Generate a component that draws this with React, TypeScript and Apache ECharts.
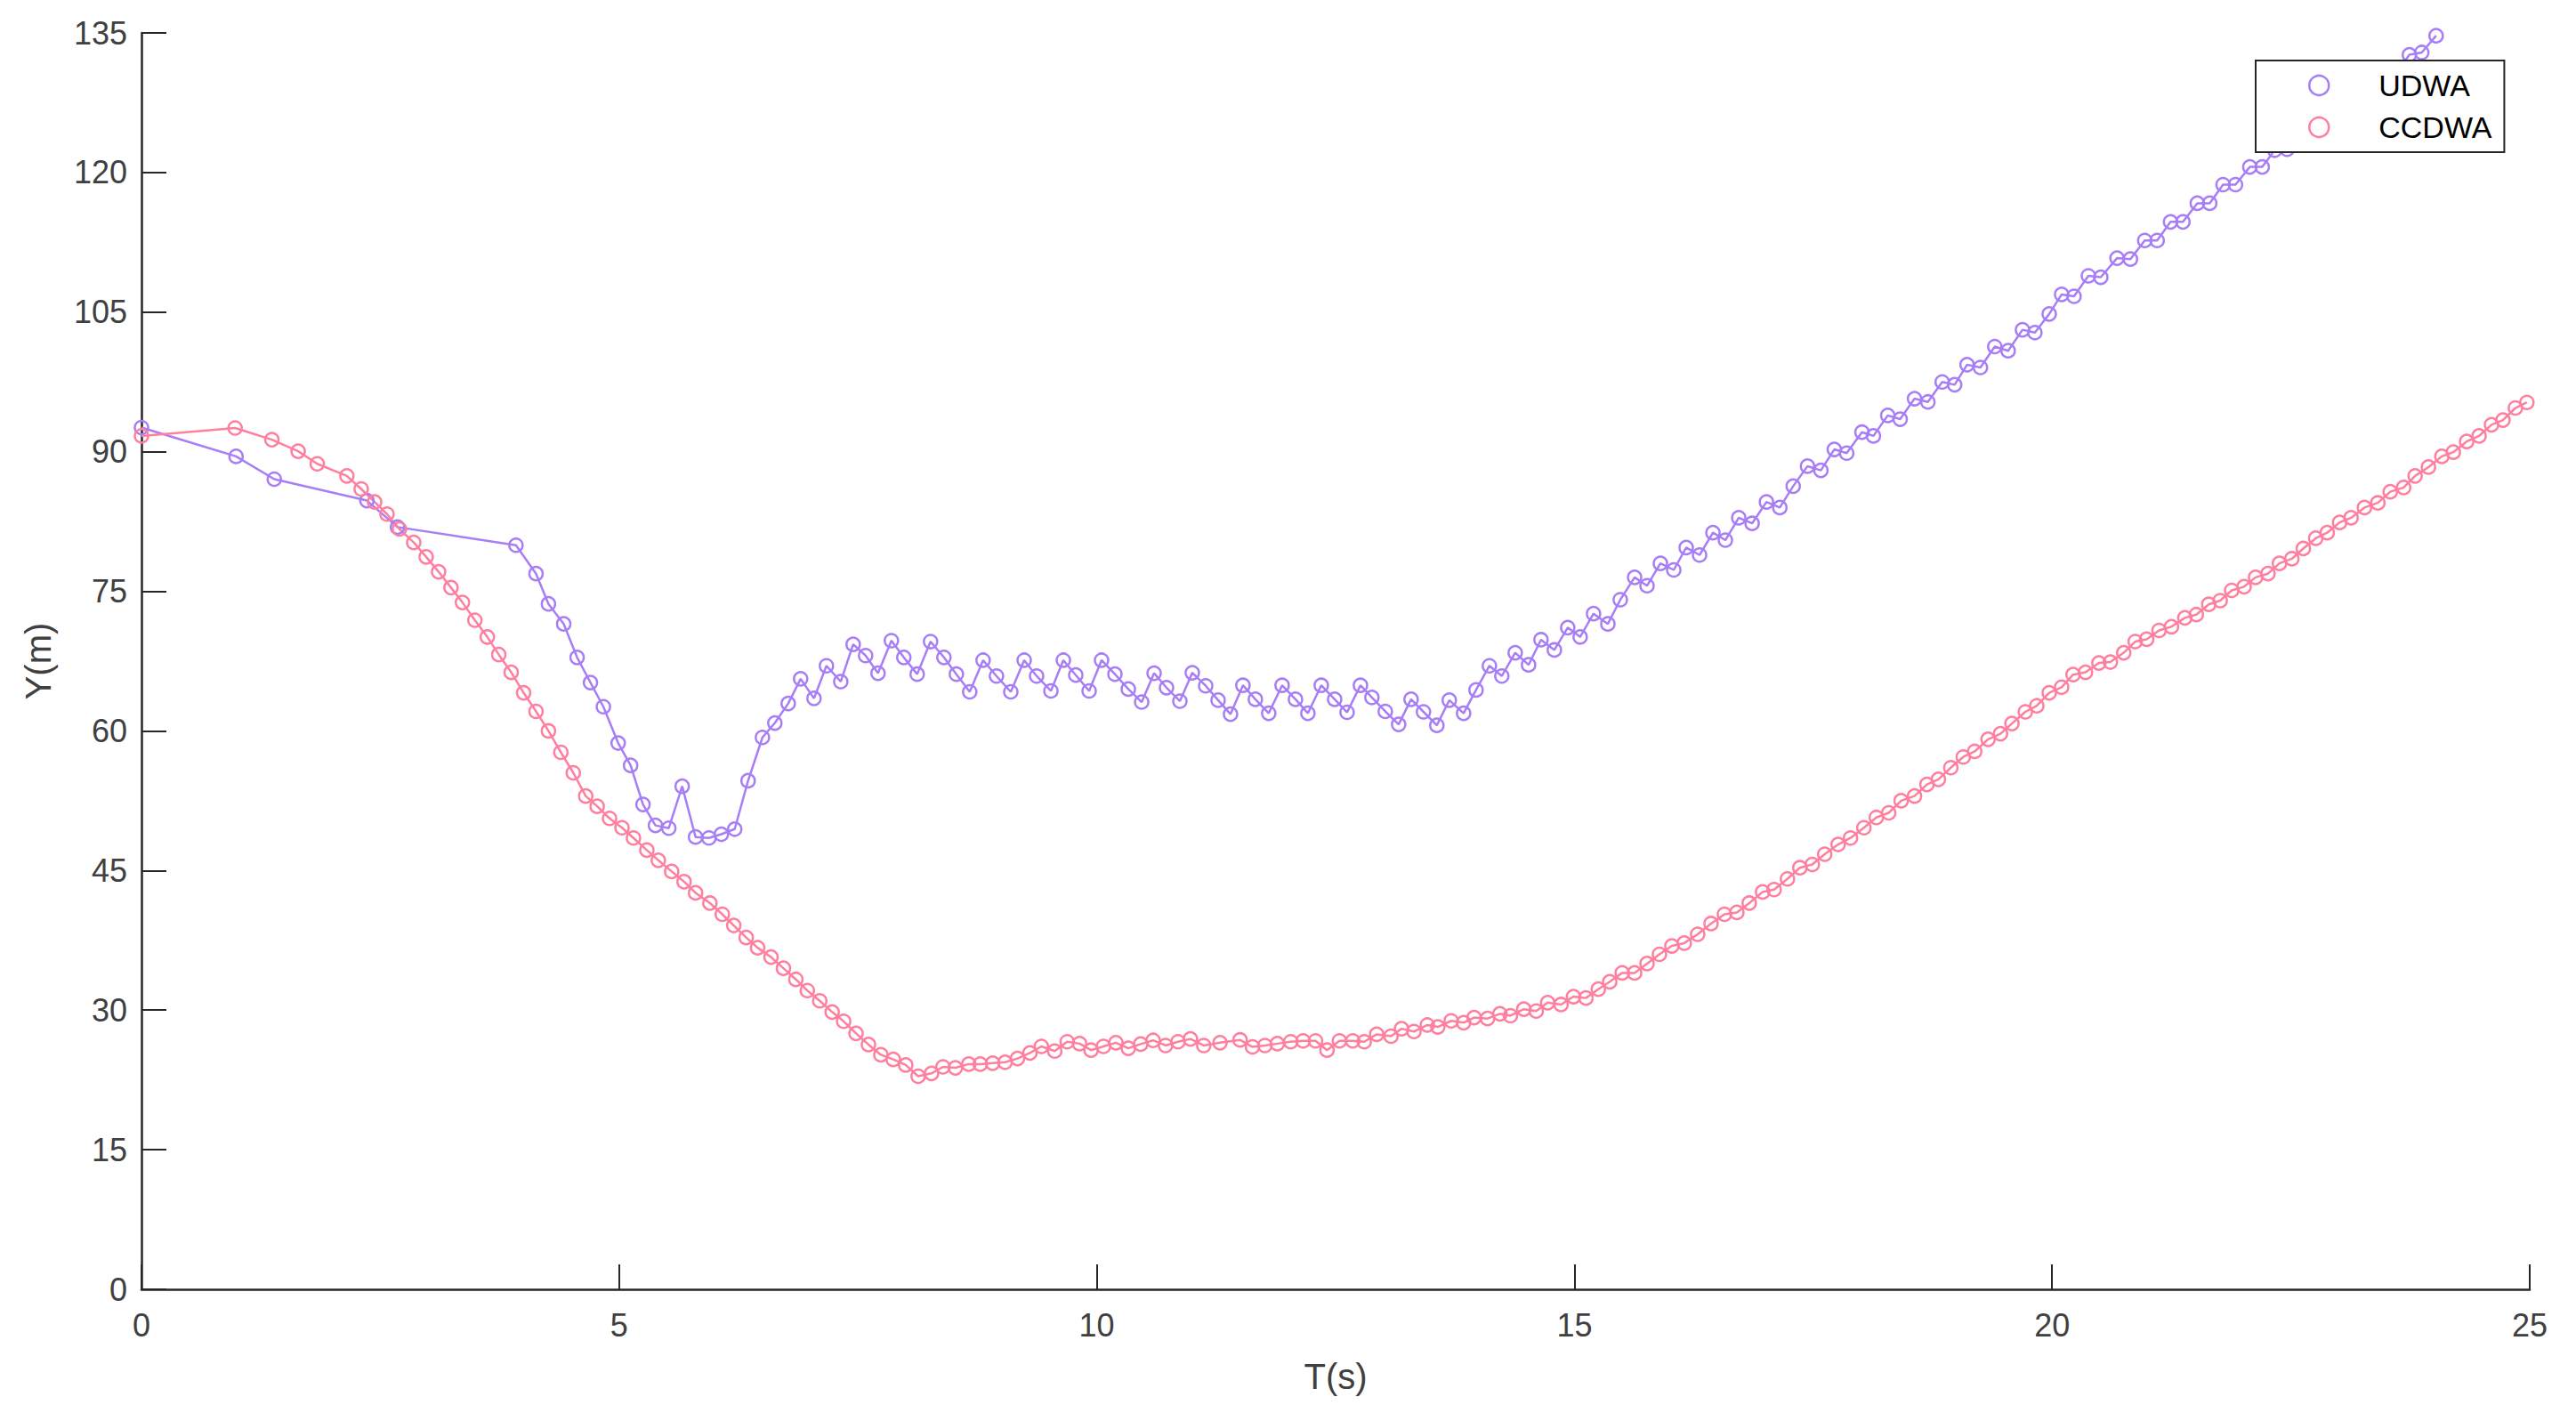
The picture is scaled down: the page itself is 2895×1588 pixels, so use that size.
import React, { useEffect, useRef } from "react";
import * as echarts from "echarts";

const seriesNames = ["UDWA", "CCDWA"];
const xTicks = { min: 0, max: 25, interval: 5 };
const yTicks = { min: 0, max: 135, interval: 15 };
const axisNames = { x: "T(s)", y: "Y(m)" };

// [T (s), Y (m)]
const udwaPoints: number[][] = [
  [0, 92.6], [0.99, 89.5], [1.39, 87.05], [2.36, 84.75], [2.68, 81.9], [3.92, 79.95],
  [4.13, 76.9], [4.26, 73.65], [4.42, 71.5], [4.56, 67.9], [4.7, 65.2], [4.835, 62.6],
  [4.99, 58.7], [5.12, 56.3], [5.25, 52.1], [5.38, 49.85], [5.52, 49.55], [5.66, 54.05],
  [5.8, 48.6], [5.94, 48.5], [6.07, 48.9], [6.21, 49.45], [6.35, 54.65], [6.5, 59.3],
  [6.63, 60.85], [6.77, 62.95], [6.9, 65.6], [7.04, 63.5], [7.17, 67.0], [7.32, 65.3],
  [7.45, 69.3], [7.58, 68.1], [7.71, 66.2], [7.85, 69.7], [7.98, 67.9], [8.12, 66.1],
  [8.26, 69.6], [8.4, 67.9], [8.53, 66.1], [8.67, 64.2], [8.81, 67.6], [8.95, 65.9],
  [9.1, 64.2], [9.24, 67.6], [9.37, 65.9], [9.52, 64.3], [9.65, 67.6], [9.78, 66.0],
  [9.92, 64.3], [10.05, 67.6], [10.19, 66.1], [10.33, 64.5], [10.47, 63.1], [10.6, 66.2],
  [10.73, 64.65], [10.87, 63.2], [11.0, 66.25], [11.14, 64.85], [11.27, 63.3], [11.4, 61.8],
  [11.53, 64.9], [11.66, 63.4], [11.8, 61.9], [11.94, 64.9], [12.08, 63.4], [12.21, 61.9],
  [12.35, 64.9], [12.49, 63.4], [12.62, 62.0], [12.76, 64.9], [12.88, 63.6], [13.02, 62.1],
  [13.16, 60.7], [13.29, 63.4], [13.42, 62.05], [13.56, 60.6], [13.69, 63.3], [13.84, 61.9],
  [13.97, 64.4], [14.11, 67.0], [14.24, 65.9], [14.38, 68.4], [14.52, 67.1], [14.65, 69.8],
  [14.79, 68.7], [14.93, 71.1], [15.06, 70.1], [15.2, 72.6], [15.35, 71.5], [15.48, 74.1],
  [15.63, 76.5], [15.76, 75.6], [15.9, 78.0], [16.04, 77.3], [16.17, 79.7], [16.31, 78.9],
  [16.45, 81.3], [16.58, 80.5], [16.72, 82.9], [16.86, 82.3], [17.01, 84.6], [17.15, 84.0],
  [17.29, 86.3], [17.44, 88.45], [17.58, 88.0], [17.72, 90.25], [17.85, 89.85], [18.01, 92.1],
  [18.13, 91.7], [18.28, 93.9], [18.41, 93.5], [18.56, 95.7], [18.7, 95.35], [18.85, 97.5],
  [18.98, 97.2], [19.11, 99.35], [19.25, 99.05], [19.4, 101.3], [19.54, 100.85], [19.69, 103.1],
  [19.82, 102.8], [19.97, 104.8], [20.1, 106.9], [20.23, 106.7], [20.38, 108.9], [20.51, 108.75],
  [20.68, 110.8], [20.82, 110.7], [20.97, 112.7], [21.1, 112.7], [21.24, 114.7], [21.37, 114.7],
  [21.52, 116.7], [21.65, 116.7], [21.79, 118.7], [21.92, 118.7], [22.07, 120.6], [22.2, 120.6],
  [22.33, 122.4], [22.46, 122.5], [22.6, 124.4], [22.74, 124.5], [22.88, 126.4], [23.02, 126.5],
  [23.17, 128.5], [23.31, 128.6], [23.45, 130.5], [23.6, 130.6], [23.74, 132.65], [23.87, 132.9],
  [24.02, 134.7],
];

const ccdwaPoints: number[][] = [
  [0, 91.7], [0.98, 92.55], [1.365, 91.3], [1.64, 90.05], [1.84, 88.7], [2.15, 87.4],
  [2.3, 86.0], [2.44, 84.6], [2.57, 83.3], [2.7, 81.7], [2.85, 80.25], [2.98, 78.7],
  [3.11, 77.1], [3.24, 75.4], [3.36, 73.8], [3.49, 71.9], [3.62, 70.1], [3.74, 68.2],
  [3.87, 66.3], [4.0, 64.1], [4.13, 62.1], [4.26, 60.0], [4.39, 57.7], [4.52, 55.5],
  [4.65, 53.0], [4.77, 51.9], [4.9, 50.6], [5.03, 49.6], [5.15, 48.5], [5.29, 47.2],
  [5.41, 46.1], [5.55, 44.9], [5.68, 43.8], [5.8, 42.6], [5.95, 41.5], [6.08, 40.3],
  [6.2, 39.1], [6.33, 37.8], [6.45, 36.7], [6.59, 35.7], [6.72, 34.5], [6.85, 33.3],
  [6.97, 32.1], [7.1, 31.0], [7.23, 29.8], [7.35, 28.8], [7.48, 27.5], [7.61, 26.3],
  [7.74, 25.2], [7.87, 24.7], [8.0, 24.1], [8.13, 22.9], [8.27, 23.2], [8.39, 23.9],
  [8.52, 23.8], [8.66, 24.2], [8.78, 24.2], [8.91, 24.3], [9.04, 24.4], [9.17, 24.8],
  [9.3, 25.4], [9.42, 26.1], [9.56, 25.6], [9.69, 26.6], [9.82, 26.4], [9.94, 25.7],
  [10.07, 26.1], [10.2, 26.5], [10.33, 25.9], [10.46, 26.35], [10.59, 26.75], [10.72, 26.2],
  [10.85, 26.6], [10.98, 26.9], [11.12, 26.2], [11.29, 26.5], [11.5, 26.8], [11.63, 26.05],
  [11.76, 26.2], [11.89, 26.4], [12.03, 26.6], [12.16, 26.7], [12.29, 26.7], [12.41, 25.7],
  [12.54, 26.7], [12.68, 26.7], [12.8, 26.6], [12.93, 27.4], [13.08, 27.2], [13.19, 28.0],
  [13.32, 27.7], [13.46, 28.4], [13.57, 28.2], [13.71, 28.85], [13.84, 28.65], [13.95, 29.2],
  [14.09, 29.1], [14.22, 29.6], [14.33, 29.4], [14.47, 30.1], [14.6, 29.9], [14.72, 30.8],
  [14.86, 30.6], [14.99, 31.45], [15.12, 31.3], [15.25, 32.25], [15.37, 33.05], [15.5, 34.0],
  [15.63, 34.0], [15.76, 35.0], [15.89, 36.0], [16.02, 36.9], [16.15, 37.2], [16.29, 38.15],
  [16.43, 39.3], [16.57, 40.3], [16.7, 40.5], [16.83, 41.5], [16.97, 42.7], [17.09, 42.95],
  [17.23, 44.1], [17.36, 45.3], [17.49, 45.65], [17.62, 46.75], [17.76, 47.8], [17.89, 48.5],
  [18.03, 49.6], [18.16, 50.7], [18.29, 51.2], [18.42, 52.5], [18.56, 53.0], [18.69, 54.25],
  [18.81, 54.8], [18.94, 56.05], [19.07, 57.2], [19.19, 57.8], [19.33, 59.1], [19.46, 59.7],
  [19.58, 60.8], [19.72, 62.05], [19.84, 62.7], [19.97, 64.1], [20.1, 64.7], [20.22, 66.05],
  [20.35, 66.3], [20.49, 67.3], [20.61, 67.4], [20.75, 68.4], [20.87, 69.6], [20.99, 69.85],
  [21.12, 70.8], [21.25, 71.2], [21.39, 72.15], [21.51, 72.5], [21.64, 73.6], [21.76, 74.0],
  [21.88, 75.1], [22.01, 75.5], [22.13, 76.5], [22.26, 76.9], [22.38, 78.0], [22.51, 78.5],
  [22.63, 79.6], [22.76, 80.7], [22.88, 81.3], [23.01, 82.4], [23.13, 82.9], [23.27, 84.0],
  [23.41, 84.5], [23.54, 85.7], [23.68, 86.15], [23.8, 87.4], [23.94, 88.35], [24.08, 89.5],
  [24.2, 89.95], [24.34, 91.1], [24.47, 91.7], [24.6, 92.9], [24.72, 93.4], [24.85, 94.7],
  [24.97, 95.3],
];

const colors = ["#a77ef6", "#ff7f9e"];
const FONT = "Arial, 'Liberation Sans', sans-serif";
const AXIS_COLOR = "#262626";
const LABEL_COLOR = "#404040";

export default function App() {
  const ref = useRef<HTMLDivElement>(null);

  useEffect(() => {
    document.body.style.margin = "0";
    if (!ref.current) return;
    const chart = echarts.init(ref.current, undefined, { renderer: "svg" });

    const mkSeries = (name: string, data: number[][], color: string) => ({
      name,
      type: "line",
      data,
      symbol: "circle",
      symbolSize: 15,
      showAllSymbol: true,
      clip: true,
      lineStyle: { color, width: 2.5 },
      itemStyle: { color: "rgba(0,0,0,0)", borderColor: color, borderWidth: 2.5 },
      emphasis: { disabled: true },
    });

    chart.setOption({
      animation: false,
      backgroundColor: "#ffffff",
      grid: { left: 159, right: 52, top: 37, bottom: 139, containLabel: false },
      legend: {
        orient: "vertical",
        left: 2535,
        top: 68,
        icon: "circle",
        itemWidth: 22,
        itemHeight: 22,
        itemGap: 13,
        padding: [11, 14, 11, 59],
        backgroundColor: "#ffffff",
        borderColor: AXIS_COLOR,
        borderWidth: 2,
        borderRadius: 0,
        textStyle: { fontFamily: FONT, fontSize: 34, color: "#000000", padding: [0, 0, 0, 51] },
        data: seriesNames.map((n, i) => ({
          name: n,
          itemStyle: { color: "rgba(0,0,0,0)", borderColor: colors[i], borderWidth: 2.5 },
        })),
      },
      xAxis: {
        type: "value",
        min: xTicks.min,
        max: xTicks.max,
        interval: xTicks.interval,
        name: axisNames.x,
        nameLocation: "middle",
        nameGap: 78,
        nameTextStyle: { fontFamily: FONT, fontSize: 40, color: LABEL_COLOR },
        axisLine: { show: true, onZero: false, lineStyle: { color: AXIS_COLOR, width: 2.5 } },
        axisTick: { show: true, inside: true, length: 28, lineStyle: { color: AXIS_COLOR, width: 2 } },
        axisLabel: { fontFamily: FONT, fontSize: 36, color: LABEL_COLOR, margin: 22 },
        splitLine: { show: false },
      },
      yAxis: {
        type: "value",
        min: yTicks.min,
        max: yTicks.max,
        interval: yTicks.interval,
        name: axisNames.y,
        nameLocation: "middle",
        nameGap: 96,
        nameTextStyle: { fontFamily: FONT, fontSize: 40, color: LABEL_COLOR },
        axisLine: { show: true, onZero: false, lineStyle: { color: AXIS_COLOR, width: 2.5 } },
        axisTick: { show: true, inside: true, length: 28, lineStyle: { color: AXIS_COLOR, width: 2 } },
        axisLabel: { fontFamily: FONT, fontSize: 36, color: LABEL_COLOR, margin: 16 },
        splitLine: { show: false },
      },
      series: [
        mkSeries(seriesNames[0], udwaPoints, colors[0]),
        mkSeries(seriesNames[1], ccdwaPoints, colors[1]),
      ],
    });

    return () => chart.dispose();
  }, []);

  return <div ref={ref} style={{ width: 2895, height: 1588 }} />;
}
